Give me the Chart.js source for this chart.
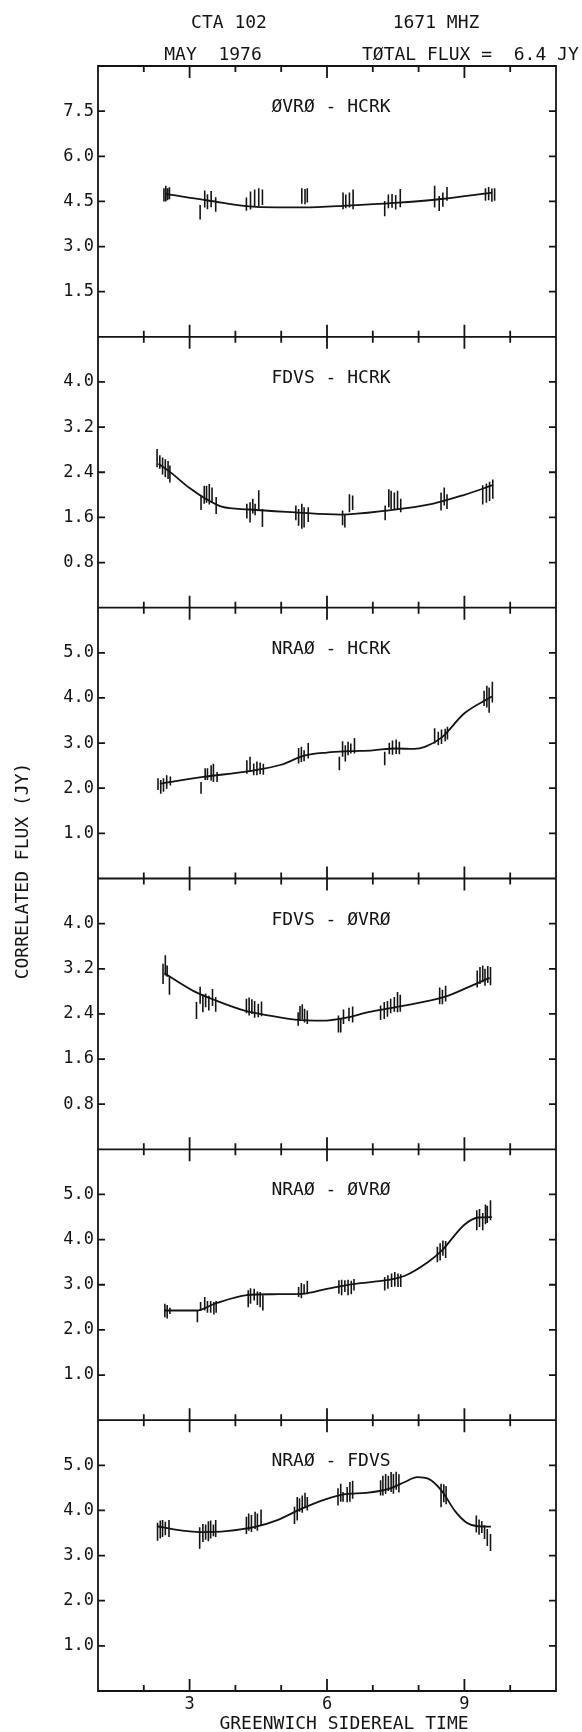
<!DOCTYPE html>
<html>
<head>
<meta charset="utf-8">
<title>CTA 102 correlated flux, 1671 MHz</title>
<script src="https://cdn.jsdelivr.net/npm/chart.js@4.4.1/dist/chart.umd.min.js"></script>
<style>
  html, body { margin: 0; padding: 0; background: #fff; }
  #wrap { position: relative; width: 582px; height: 1732px; }
</style>
</head>
<body>
<div id="wrap"><canvas id="fluxChart" width="582" height="1732"></canvas></div>
<script>
const ink = '#141414';
const FONT = '"DejaVu Sans Mono", monospace';

// Panel setup, top to bottom
const baselines = ['ØVRØ - HCRK', 'FDVS - HCRK', 'NRAØ - HCRK', 'FDVS - ØVRØ', 'NRAØ - ØVRØ', 'NRAØ - FDVS'];
const fluxMax = [9, 4.8, 6, 4.8, 6, 6];
const fluxStep = [1.5, 0.8, 1, 0.8, 1, 1];
const gstMin = 1, gstMax = 11;
const gstLabels = [3, 6, 9];

// OVRO - HCRK
const ovroHcrkTimes = [2.44, 2.48, 2.52, 2.56, 3.23, 3.33, 3.39, 3.47, 3.57, 4.24, 4.33, 4.42, 4.51, 4.59, 5.45, 5.52, 5.57, 6.35, 6.41, 6.49, 6.57, 7.26, 7.34, 7.42, 7.5, 7.6, 8.35, 8.45, 8.53, 8.62, 9.46, 9.53, 9.6, 9.66];
const ovroHcrkFlux = [4.72, 4.76, 4.74, 4.77, 4.14, 4.58, 4.49, 4.58, 4.4, 4.41, 4.53, 4.61, 4.64, 4.64, 4.68, 4.66, 4.7, 4.52, 4.5, 4.55, 4.57, 4.26, 4.5, 4.52, 4.47, 4.61, 4.66, 4.43, 4.56, 4.75, 4.73, 4.76, 4.71, 4.73];
const ovroHcrkErr = [0.22, 0.26, 0.2, 0.2, 0.24, 0.28, 0.25, 0.27, 0.24, 0.22, 0.3, 0.29, 0.3, 0.26, 0.26, 0.25, 0.24, 0.28, 0.23, 0.25, 0.33, 0.25, 0.23, 0.23, 0.24, 0.3, 0.36, 0.25, 0.24, 0.23, 0.21, 0.22, 0.22, 0.21];
const ovroHcrkFitT = [2.48, 3.4, 4.45, 5.5, 6.45, 7.47, 8.5, 9.6];
const ovroHcrkFit = [4.75, 4.53, 4.32, 4.3, 4.36, 4.45, 4.58, 4.79];

// FDVS - HCRK
const fdvsHcrkTimes = [2.29, 2.35, 2.41, 2.47, 2.53, 2.57, 3.25, 3.32, 3.37, 3.43, 3.49, 3.58, 4.25, 4.32, 4.38, 4.43, 4.51, 4.59, 5.32, 5.38, 5.45, 5.5, 5.59, 6.34, 6.39, 6.49, 6.56, 7.27, 7.35, 7.4, 7.47, 7.54, 7.61, 8.49, 8.56, 8.62, 9.4, 9.48, 9.55, 9.62];
const fdvsHcrkFlux = [2.65, 2.58, 2.51, 2.47, 2.44, 2.37, 1.86, 2.0, 2.01, 2.01, 2.0, 1.81, 1.71, 1.69, 1.8, 1.74, 1.9, 1.59, 1.68, 1.6, 1.62, 1.6, 1.65, 1.59, 1.54, 1.85, 1.86, 1.68, 1.94, 1.91, 1.89, 1.91, 1.81, 1.88, 1.97, 1.88, 2.0, 2.03, 2.06, 2.1];
const fdvsHcrkErr = [0.16, 0.12, 0.15, 0.16, 0.16, 0.15, 0.13, 0.16, 0.15, 0.18, 0.13, 0.15, 0.13, 0.18, 0.13, 0.1, 0.18, 0.16, 0.13, 0.15, 0.22, 0.18, 0.13, 0.13, 0.12, 0.16, 0.13, 0.13, 0.16, 0.16, 0.15, 0.16, 0.12, 0.16, 0.16, 0.13, 0.17, 0.17, 0.17, 0.17];
const fdvsHcrkFitT = [2.32, 2.55, 3.0, 3.35, 3.7, 4.3, 5.3, 6.3, 7.3, 8.3, 9.0, 9.62];
const fdvsHcrkFit = [2.55, 2.42, 2.12, 1.93, 1.79, 1.74, 1.69, 1.65, 1.72, 1.84, 2.0, 2.17];

// NRAO - HCRK
const nraoHcrkTimes = [2.31, 2.37, 2.43, 2.5, 2.58, 3.25, 3.34, 3.39, 3.47, 3.52, 3.6, 4.25, 4.32, 4.4, 4.47, 4.54, 4.61, 5.38, 5.44, 5.5, 5.59, 6.27, 6.34, 6.4, 6.46, 6.52, 6.6, 7.26, 7.36, 7.43, 7.51, 7.58, 8.35, 8.43, 8.5, 8.58, 8.63, 9.43, 9.49, 9.54, 9.61];
const nraoHcrkFlux = [2.09, 2.03, 2.07, 2.14, 2.16, 2.01, 2.31, 2.31, 2.34, 2.34, 2.25, 2.47, 2.53, 2.42, 2.44, 2.44, 2.42, 2.72, 2.75, 2.72, 2.83, 2.55, 2.87, 2.77, 2.88, 2.88, 2.94, 2.66, 2.88, 2.9, 2.92, 2.89, 3.16, 3.1, 3.14, 3.18, 3.22, 3.99, 4.03, 3.95, 4.13];
const nraoHcrkErr = [0.13, 0.15, 0.15, 0.15, 0.1, 0.13, 0.13, 0.13, 0.17, 0.2, 0.11, 0.15, 0.17, 0.13, 0.15, 0.13, 0.12, 0.17, 0.17, 0.12, 0.17, 0.15, 0.17, 0.18, 0.15, 0.11, 0.17, 0.15, 0.13, 0.16, 0.16, 0.14, 0.17, 0.15, 0.16, 0.14, 0.14, 0.17, 0.24, 0.28, 0.23];
const nraoHcrkFitT = [2.35, 3.3, 4.3, 5.0, 5.5, 6.0, 6.5, 7.0, 7.5, 7.9, 8.15, 8.5, 9.0, 9.6];
const nraoHcrkFit = [2.1, 2.25, 2.38, 2.52, 2.72, 2.79, 2.82, 2.84, 2.88, 2.87, 2.92, 3.12, 3.66, 4.03];

// FDVS - OVRO
const fdvsOvroTimes = [2.42, 2.47, 2.51, 2.56, 3.15, 3.23, 3.29, 3.35, 3.42, 3.5, 3.57, 4.24, 4.3, 4.36, 4.42, 4.5, 4.57, 5.37, 5.41, 5.46, 5.51, 5.57, 6.25, 6.3, 6.36, 6.48, 6.56, 7.17, 7.25, 7.32, 7.39, 7.47, 7.54, 7.6, 8.46, 8.52, 8.59, 9.28, 9.34, 9.4, 9.45, 9.51, 9.57];
const fdvsOvroFlux = [3.11, 3.26, 3.16, 2.9, 2.46, 2.73, 2.59, 2.64, 2.59, 2.69, 2.57, 2.54, 2.53, 2.53, 2.48, 2.46, 2.49, 2.31, 2.41, 2.44, 2.37, 2.34, 2.22, 2.19, 2.35, 2.39, 2.39, 2.42, 2.46, 2.49, 2.54, 2.57, 2.61, 2.59, 2.72, 2.7, 2.76, 3.02, 3.08, 3.11, 3.05, 3.1, 3.07];
const fdvsOvroErr = [0.18, 0.18, 0.1, 0.16, 0.15, 0.15, 0.16, 0.12, 0.13, 0.15, 0.13, 0.13, 0.16, 0.13, 0.15, 0.12, 0.13, 0.12, 0.13, 0.13, 0.12, 0.12, 0.15, 0.12, 0.13, 0.12, 0.14, 0.13, 0.15, 0.14, 0.13, 0.13, 0.18, 0.15, 0.15, 0.13, 0.14, 0.15, 0.15, 0.15, 0.15, 0.15, 0.16];
const fdvsOvroFitT = [2.45, 3.1, 3.6, 4.2, 4.75, 5.3, 5.9, 6.4, 6.9, 7.5, 8.6, 9.1, 9.55];
const fdvsOvroFit = [3.12, 2.8, 2.63, 2.46, 2.37, 2.3, 2.28, 2.33, 2.43, 2.52, 2.71, 2.88, 3.04];

// NRAO - OVRO
const nraoOvroTimes = [2.46, 2.51, 2.57, 3.17, 3.24, 3.33, 3.39, 3.46, 3.53, 3.58, 4.28, 4.33, 4.41, 4.48, 4.54, 4.6, 5.38, 5.44, 5.5, 5.57, 6.26, 6.32, 6.39, 6.46, 6.53, 6.59, 7.26, 7.33, 7.41, 7.48, 7.55, 7.61, 8.41, 8.47, 8.53, 8.59, 9.27, 9.33, 9.4, 9.46, 9.5, 9.57];
const nraoOvroFlux = [2.43, 2.4, 2.42, 2.3, 2.52, 2.58, 2.51, 2.51, 2.48, 2.51, 2.69, 2.75, 2.78, 2.7, 2.67, 2.6, 2.84, 2.87, 2.9, 2.94, 2.95, 2.94, 2.97, 2.94, 2.94, 3.0, 3.02, 3.06, 3.1, 3.12, 3.1, 3.09, 3.67, 3.73, 3.81, 3.78, 4.43, 4.48, 4.4, 4.56, 4.56, 4.65];
const nraoOvroErr = [0.15, 0.15, 0.07, 0.13, 0.1, 0.15, 0.13, 0.13, 0.14, 0.13, 0.19, 0.17, 0.13, 0.15, 0.17, 0.17, 0.11, 0.17, 0.11, 0.15, 0.15, 0.17, 0.13, 0.17, 0.15, 0.13, 0.15, 0.15, 0.15, 0.16, 0.15, 0.14, 0.17, 0.19, 0.17, 0.19, 0.22, 0.2, 0.19, 0.22, 0.19, 0.22];
const nraoOvroFitT = [2.45, 3.15, 3.55, 4.25, 4.8, 5.45, 6.0, 6.6, 7.3, 7.7, 8.2, 8.5, 9.0, 9.3, 9.6];
const nraoOvroFit = [2.43, 2.43, 2.58, 2.77, 2.79, 2.8, 2.91, 3.02, 3.1, 3.2, 3.5, 3.75, 4.33, 4.49, 4.5];

// NRAO - FDVS
const nraoFdvsTimes = [2.3, 2.36, 2.41, 2.47, 2.55, 3.22, 3.29, 3.35, 3.41, 3.46, 3.52, 3.57, 4.24, 4.29, 4.35, 4.43, 4.48, 4.56, 5.29, 5.35, 5.4, 5.46, 5.52, 5.57, 6.24, 6.3, 6.35, 6.44, 6.5, 6.56, 7.17, 7.22, 7.28, 7.34, 7.4, 7.45, 7.51, 7.57, 8.49, 8.55, 8.6, 9.26, 9.32, 9.38, 9.44, 9.5, 9.57];
const nraoFdvsFlux = [3.53, 3.58, 3.6, 3.6, 3.6, 3.39, 3.5, 3.52, 3.54, 3.58, 3.56, 3.6, 3.67, 3.74, 3.71, 3.78, 3.74, 3.85, 3.89, 4.04, 4.12, 4.14, 4.22, 4.15, 4.3, 4.39, 4.3, 4.35, 4.41, 4.46, 4.5, 4.55, 4.59, 4.6, 4.63, 4.59, 4.66, 4.6, 4.33, 4.38, 4.34, 3.7, 3.63, 3.63, 3.52, 3.4, 3.29];
const nraoFdvsErr = [0.2, 0.2, 0.19, 0.15, 0.19, 0.24, 0.2, 0.17, 0.22, 0.2, 0.13, 0.19, 0.19, 0.19, 0.19, 0.19, 0.19, 0.17, 0.19, 0.26, 0.15, 0.19, 0.17, 0.15, 0.19, 0.2, 0.11, 0.17, 0.22, 0.2, 0.17, 0.22, 0.22, 0.17, 0.22, 0.22, 0.2, 0.2, 0.26, 0.2, 0.2, 0.19, 0.17, 0.13, 0.15, 0.19, 0.19];
const nraoFdvsFitT = [2.3, 2.6, 3.25, 3.8, 4.45, 4.9, 5.45, 5.95, 6.4, 6.85, 7.35, 7.7, 7.97, 8.22, 8.5, 8.8, 9.05, 9.3, 9.58];
const nraoFdvsFit = [3.65, 3.59, 3.52, 3.54, 3.64, 3.78, 4.04, 4.24, 4.36, 4.39, 4.48, 4.63, 4.74, 4.7, 4.44, 3.98, 3.73, 3.65, 3.64];

const panels = [
    [ovroHcrkTimes, ovroHcrkFlux, ovroHcrkErr, ovroHcrkFitT, ovroHcrkFit],
    [fdvsHcrkTimes, fdvsHcrkFlux, fdvsHcrkErr, fdvsHcrkFitT, fdvsHcrkFit],
    [nraoHcrkTimes, nraoHcrkFlux, nraoHcrkErr, nraoHcrkFitT, nraoHcrkFit],
    [fdvsOvroTimes, fdvsOvroFlux, fdvsOvroErr, fdvsOvroFitT, fdvsOvroFit],
    [nraoOvroTimes, nraoOvroFlux, nraoOvroErr, nraoOvroFitT, nraoOvroFit],
    [nraoFdvsTimes, nraoFdvsFlux, nraoFdvsErr, nraoFdvsFitT, nraoFdvsFit]
];
const axisIds = baselines.map((_, i) => 'y' + (i + 1));

// each error bar is a short vertical segment, separated by a null gap
function errorBars(times, flux, err) {
    const pts = [];
    times.forEach((t, i) => {
        pts.push({x: t, y: flux[i] - err[i]}, {x: t, y: flux[i] + err[i]}, {x: t, y: null});
    });
    return pts;
}

const datasets = [];
panels.forEach(([times, flux, err, fitT, fit], i) => {
    datasets.push({
        data: fitT.map((t, j) => ({x: t, y: fit[j]})),
        yAxisID: axisIds[i],
        borderColor: ink,
        borderWidth: 1.8,
        pointRadius: 0,
        cubicInterpolationMode: 'monotone'
    });
    datasets.push({
        data: errorBars(times, flux, err),
        yAxisID: axisIds[i],
        borderColor: ink,
        borderWidth: 1.6,
        pointRadius: 0,
        tension: 0,
        spanGaps: false
    });
});

const tickFont = {family: FONT, size: 17};
const scales = {
    x: {
        type: 'linear',
        min: gstMin,
        max: gstMax,
        grid: {display: false, drawTicks: false},
        border: {display: false},
        ticks: {
            stepSize: 1, autoSkip: false, maxRotation: 0, padding: 3,
            color: ink, font: tickFont,
            callback: v => gstLabels.includes(v) ? String(v) : ''
        },
        afterFit: s => { s.height = 41; }
    }
};
axisIds.forEach((id, i) => {
    scales[id] = {
        type: 'linear',
        position: 'left',
        stack: 'baselines',
        stackWeight: 1,
        weight: axisIds.length - i,
        min: 0,
        max: fluxMax[i],
        grid: {display: false, drawTicks: false},
        border: {display: false},
        ticks: {
            stepSize: fluxStep[i], autoSkip: false, padding: 4, color: ink, font: tickFont,
            callback: v => (v > 0 && v < fluxMax[i] - 1e-6) ? v.toFixed(1) : ''
        },
        afterFit: s => { s.width = 98; }
    };
});

// frame, panel dividers, tick marks and the lettering
const plotFrame = {
    id: 'plotFrame',
    afterDraw(chart) {
        const {ctx, chartArea: area, scales: sc} = chart;
        const xs = sc.x;
        ctx.save();
        ctx.strokeStyle = ink;
        ctx.lineWidth = 1.8;
        ctx.beginPath();
        ctx.rect(area.left, area.top, area.right - area.left, area.bottom - area.top);
        axisIds.forEach(id => {
            ctx.moveTo(area.left, sc[id].bottom);
            ctx.lineTo(area.right, sc[id].bottom);
        });
        axisIds.forEach(id => {
            const s = sc[id];
            s.ticks.forEach(t => {
                if (t.value <= 0 || t.value >= s.max - 1e-6) return;
                const y = s.getPixelForValue(t.value);
                ctx.moveTo(area.left, y); ctx.lineTo(area.left + 7, y);
                ctx.moveTo(area.right - 7, y); ctx.lineTo(area.right, y);
            });
        });
        const edges = [sc[axisIds[0]].top].concat(axisIds.map(id => sc[id].bottom));
        xs.ticks.forEach(t => {
            if (t.value <= xs.min || t.value >= xs.max) return;
            const x = xs.getPixelForValue(t.value);
            const len = gstLabels.includes(t.value) ? 12 : 6;
            edges.forEach((y, k) => {
                const up = k === 0 ? 0 : len;
                const down = k === edges.length - 1 ? 0 : len;
                ctx.moveTo(x, y - up);
                ctx.lineTo(x, y + down);
            });
        });
        ctx.stroke();

        ctx.fillStyle = ink;
        ctx.textBaseline = 'alphabetic';
        ctx.font = '18px ' + FONT;
        ctx.textAlign = 'center';
        ctx.fillText('CTA 102', 229, 28);
        ctx.fillText('1671 MHZ', 436, 28);
        ctx.fillText('MAY  1976', 213, 60);
        ctx.textAlign = 'left';
        ctx.fillText('TØTAL FLUX =  6.4 JY', 362, 60);

        ctx.textAlign = 'center';
        const midX = (area.left + area.right) / 2 + 4;
        axisIds.forEach((id, i) => ctx.fillText(baselines[i], midX, sc[id].top + 46));
        ctx.fillText('GREENWICH SIDEREAL TIME', 344, 1729);

        ctx.translate(28, 871);
        ctx.rotate(-Math.PI / 2);
        ctx.fillText('CORRELATED FLUX (JY)', 0, 0);
        ctx.restore();
    }
};

new Chart(document.getElementById('fluxChart').getContext('2d'), {
    type: 'line',
    data: {datasets},
    options: {
        responsive: false,
        devicePixelRatio: 1,
        animation: false,
        layout: {padding: {top: 66, right: 26, bottom: 0, left: 0}},
        plugins: {legend: {display: false}, tooltip: {enabled: false}},
        scales
    },
    plugins: [plotFrame]
});
</script>
</body>
</html>
